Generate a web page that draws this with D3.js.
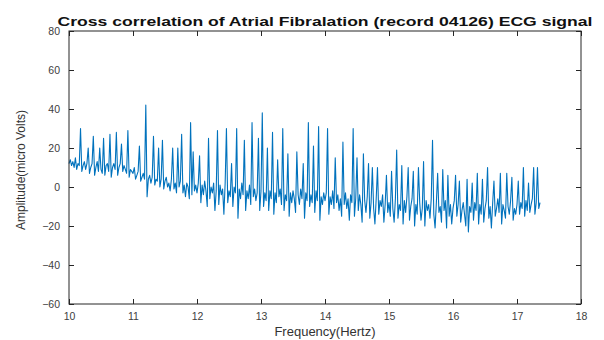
<!DOCTYPE html>
<html>
<head>
<meta charset="utf-8">
<script src="https://cdn.jsdelivr.net/npm/d3@7"></script>
<style>
  body { margin: 0; background: #fff; }
  svg { display: block; font-family: "Liberation Sans", Arial, sans-serif; }
</style>
</head>
<body>
<div id="chart"></div>
<script>
// x grid of the trace (Hz)
var freqStart = 10;
var freqStep = 0.02;

// amplitude, 50 samples per Hz
var amp10 = [12, 14, 11, 13, 10, 15, 9, 12, 11, 30,
  8, 11, 13, 9, 12, 20, 7, 10, 12, 26,
  6, 10, 13, 8, 20, 9, 7, 25, 6, 11,
  12, 8, 27, 5, 10, 12, 9, 28, 6, 10,
  12, 22, 8, 11, 9, 7, 29, 5, 9, 8];
var amp11 = [7, 10, 4, 6, 8, 21, 3, 5, 7, 4,
  42, -5, 4, 6, 2, 5, 26, 1, 4, 3,
  20, 0, 4, 24, -1, 3, 5, 0, 2, -2,
  4, 20, -1, 2, -3, 20, 0, 3, 27, -3,
  1, -5, 2, 0, -6, 33, -4, 18, -2, 1];
var amp12 = [-3, 2, 16, -8, 1, -4, 3, -2, -10, 25,
  -6, 0, -3, 2, -12, -2, 29, -9, 1, -4,
  -1, -14, 2, 30, -8, -2, -5, 12, -10, 0,
  -3, 30, -16, -1, -6, 2, -4, 24, -12, -2,
  -6, 1, -9, 33, -5, -1, -7, -3, 25, -12];
var amp13 = [-2, 38, -10, -3, -7, 20, -12, -2, -6, 28,
  -14, -3, -8, 14, -5, -1, -9, 30, -12, -4,
  -7, 17, -15, -3, -8, -2, -6, -13, 18, -4,
  -9, -1, -6, 12, -16, -3, -7, 33, -10, -4,
  -8, 21, -13, -2, -7, 31, -17, -5, -9, -3];
var amp14 = [-7, -3, 30, -14, -5, -9, -2, -11, 15, -8,
  -4, -12, -6, -15, 23, -9, -3, -11, -6, -17,
  -4, -8, 30, -15, -6, 15, -12, -4, -9, -18,
  17, -7, -13, -5, 12, -16, -8, 10, -11, -19,
  -6, 10, -14, -7, -10, -4, -18, -9, 6, -13];
var amp15 = [-8, -15, 8, -11, -18, -6, 19, -16, -9, -12,
  11, -19, -7, -13, -5, 10, -17, -10, -6, 8,
  -20, -9, -14, 10, -8, -17, -11, 13, -20, -7,
  -12, -9, -16, -6, 24, -14, -21, -8, 7, -13,
  -10, -18, 9, -12, -7, -21, 6, -15, -9, -19];
var amp16 = [-11, -7, 6, -15, -9, 3, -18, -12, -8, -14,
  -20, 4, -23, -10, -13, 2, -17, -8, -12, 7,
  -19, -9, -14, 4, -18, -11, -7, 10, -16, -10,
  -21, -8, 3, -15, -11, -6, -13, 7, -19, -9,
  -12, -16, 7, -10, -14, -7, 5, -17, -11, -14];
var amp17 = [-9, 3, -14, -8, -11, 10, -15, -7, -12, 2,
  -13, -9, -6, 10, -14, -8, 10, -11, -8];

var xTicks = [10, 11, 12, 13, 14, 15, 16, 17, 18];
var yTicks = [-60, -40, -20, 0, 20, 40, 60, 80];

var titleText = "Cross correlation of Atrial Fibralation (record 04126) ECG signal";
var xLabel = "Frequency(Hertz)";
var yLabel = "Amplitude(micro Volts)";

var amps = [].concat(amp10, amp11, amp12, amp13, amp14, amp15, amp16, amp17);
var data = amps.map(function (v, i) { return { f: freqStart + i * freqStep, v: v }; });

var width = 604, height = 340;
var margin = { top: 31, right: 23, bottom: 36, left: 69 };
var iw = width - margin.left - margin.right;
var ih = height - margin.top - margin.bottom;
var axisColor = "#262626";

var svg = d3.select("#chart").append("svg")
  .attr("width", width)
  .attr("height", height);

var g = svg.append("g")
  .attr("transform", "translate(" + margin.left + "," + margin.top + ")");

var x = d3.scaleLinear().domain([10, 18]).range([0, iw]);
var y = d3.scaleLinear().domain([-60, 80]).range([ih, 0]);

// trace
var line = d3.line()
  .x(function (d) { return x(d.f); })
  .y(function (d) { return y(d.v); });

g.append("path")
  .datum(data)
  .attr("fill", "none")
  .attr("stroke", "#0072BD")
  .attr("stroke-width", 1.1)
  .attr("stroke-linejoin", "round")
  .attr("d", line);

// axes, matlab style box with inward ticks
function styleAxis(sel) {
  sel.select(".domain").remove();
  sel.selectAll(".tick line").attr("stroke", axisColor);
  sel.selectAll(".tick text").attr("fill", "#404040").style("font-size", "10.5px");
}

g.append("g")
  .attr("transform", "translate(0," + ih + ")")
  .call(d3.axisBottom(x).tickValues(xTicks).tickSizeInner(-5).tickSizeOuter(0).tickPadding(9))
  .call(styleAxis);

g.append("g")
  .call(d3.axisTop(x).tickValues(xTicks).tickSizeInner(-5).tickSizeOuter(0).tickFormat(""))
  .call(styleAxis);

g.append("g")
  .call(d3.axisLeft(y).tickValues(yTicks).tickSizeInner(-5).tickSizeOuter(0).tickPadding(9))
  .call(styleAxis);

g.append("g")
  .attr("transform", "translate(" + iw + ",0)")
  .call(d3.axisRight(y).tickValues(yTicks).tickSizeInner(-5).tickSizeOuter(0).tickFormat(""))
  .call(styleAxis);

g.append("rect")
  .attr("width", iw)
  .attr("height", ih)
  .attr("fill", "none")
  .attr("stroke", axisColor)
  .attr("stroke-width", 1);

// labels
svg.append("text")
  .attr("x", margin.left + iw / 2)
  .attr("y", 26)
  .attr("text-anchor", "middle")
  .attr("font-weight", "bold")
  .style("font-size", "12.5px")
  .attr("textLength", 535)
  .attr("lengthAdjust", "spacingAndGlyphs")
  .attr("fill", "#111")
  .text(titleText);

svg.append("text")
  .attr("x", margin.left + iw / 2)
  .attr("y", 336)
  .attr("text-anchor", "middle")
  .style("font-size", "13px")
  .attr("fill", "#333")
  .text(xLabel);

svg.append("text")
  .attr("transform", "translate(25,170) rotate(-90)")
  .attr("text-anchor", "middle")
  .style("font-size", "12px")
  .attr("fill", "#333")
  .text(yLabel);
</script>
</body>
</html>
